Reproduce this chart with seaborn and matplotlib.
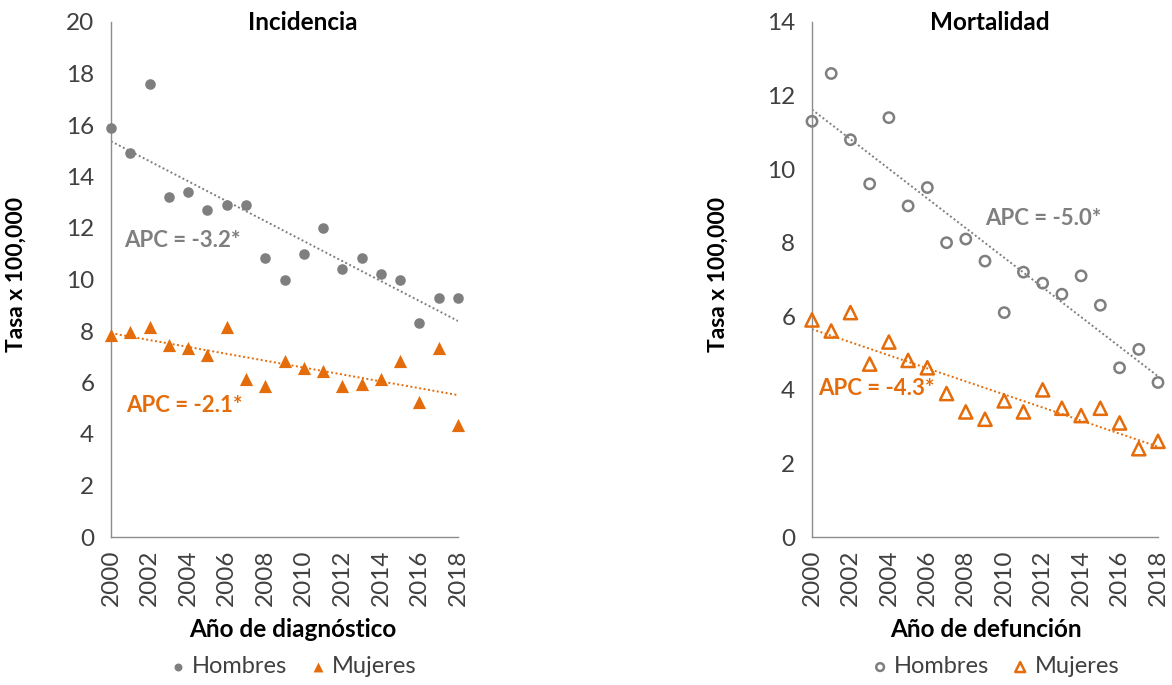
import matplotlib
matplotlib.use('Agg')
import matplotlib.pyplot as plt
import seaborn as sns
import pandas as pd

years = list(range(2000, 2019))
inc_hombres = [15.9, 14.9, 17.6, 13.2, 13.4, 12.7, 12.9, 12.9, 10.85, 10.0, 11.0, 12.0,
               10.4, 10.85, 10.2, 10.0, 8.3, 9.3, 9.3]
inc_mujeres = [7.85, 7.95, 8.15, 7.45, 7.35, 7.05, 8.15, 6.15, 5.85, 6.85, 6.55, 6.45,
               5.85, 5.95, 6.15, 6.85, 5.25, 7.35, 4.35]
mort_hombres = [11.3, 12.6, 10.8, 9.6, 11.4, 9.0, 9.5, 8.0, 8.1, 7.5, 6.1, 7.2,
                6.9, 6.6, 7.1, 6.3, 4.6, 5.1, 4.2]
mort_mujeres = [5.9, 5.6, 6.1, 4.7, 5.3, 4.8, 4.6, 3.9, 3.4, 3.2, 3.7, 3.4,
                4.0, 3.5, 3.3, 3.5, 3.1, 2.4, 2.6]

titles = ["Incidencia", "Mortalidad"]
xlabels = ["Año de diagnóstico", "Año de defunción"]
ylabel = "Tasa x 100,000"
series_names = ["Hombres", "Mujeres"]
apc_labels = [["APC = -3.2*", "APC = -2.1*"], ["APC = -5.0*", "APC = -4.3*"]]
ylims = [20, 14]

GREY = "#7f7f7f"
ORANGE = "#E46C0A"
TXT = "#404040"

sns.set_style("white")
plt.rcParams['font.family'] = ['Lato', 'DejaVu Sans']

fig = plt.figure(figsize=(11.72, 6.85), dpi=100)
ax1 = fig.add_axes([111/1172, 148/685, 347/1172, 515/685])
ax2 = fig.add_axes([812/1172, 148/685, 346/1172, 515/685])

df_inc = pd.DataFrame({"year": years, "Hombres": inc_hombres, "Mujeres": inc_mujeres})
df_mort = pd.DataFrame({"year": years, "Hombres": mort_hombres, "Mujeres": mort_mujeres})

# Incidence: filled markers
sns.scatterplot(data=df_inc, x="year", y="Hombres", ax=ax1, color=GREY, marker="o",
                s=58, edgecolor=GREY, linewidth=0, clip_on=False, zorder=3, label="Hombres")
sns.scatterplot(data=df_inc, x="year", y="Mujeres", ax=ax1, color=ORANGE, marker="^",
                s=90, edgecolor=ORANGE, linewidth=0, clip_on=False, zorder=3, label="Mujeres")
# Mortality: open markers
sns.scatterplot(data=df_mort, x="year", y="Hombres", ax=ax2, marker="o", s=55,
                facecolor="none", edgecolor=GREY, linewidth=1.8, clip_on=False, zorder=3,
                label="Hombres")
sns.scatterplot(data=df_mort, x="year", y="Mujeres", ax=ax2, marker="^", s=90,
                facecolor="none", edgecolor=ORANGE, linewidth=1.8, clip_on=False, zorder=3,
                label="Mujeres")

for ax, df in ((ax1, df_inc), (ax2, df_mort)):
    for col, c in (("Hombres", GREY), ("Mujeres", ORANGE)):
        sns.regplot(data=df, x="year", y=col, ax=ax, scatter=False, ci=None, truncate=True,
                    color=c, line_kws=dict(linestyle=(0, (1, 1.3)), linewidth=1.4, zorder=2))

xlabel_x = [0.525, 0.503]
title_x = [0.553, 0.514]
legend_x = [0.52, 0.525]
for i, ax in enumerate((ax1, ax2)):
    ax.set_xlim(2000, 2018)
    ax.set_ylim(0, ylims[i])
    ax.set_yticks(range(0, ylims[i] + 1, 2))
    ax.set_xticks(years)
    ax.set_xticklabels([str(y) if y % 2 == 0 else "" for y in years], rotation=90)
    for s in ("top", "right"):
        ax.spines[s].set_visible(False)
    for s in ("left", "bottom"):
        ax.spines[s].set_color("#8c8c8c")
        ax.spines[s].set_linewidth(1.0)
    ax.tick_params(axis="both", direction="out", length=6, width=1.0, color="#8c8c8c",
                   labelsize=17.5, labelcolor=TXT, pad=3)
    ax.tick_params(axis="y", pad=6)
    ax.set_ylabel(ylabel, fontsize=16.5, fontweight="bold", color="black")
    ax.yaxis.set_label_coords(-0.242, 0.51)
    ax.set_xlabel(xlabels[i], fontsize=17.5, fontweight="bold", color="black")
    ax.xaxis.set_label_coords(xlabel_x[i], -0.158)
    ax.text(title_x[i], 1.0, titles[i], transform=ax.transAxes, ha="center", va="center",
            fontsize=17.5, fontweight="bold", color="black")
    leg = ax.legend(loc="center", bbox_to_anchor=(legend_x[i], -0.252), ncol=2,
                    frameon=False, fontsize=17, handletextpad=0.1, columnspacing=0.8,
                    markerscale=0.75, handlelength=1.0)
    for t in leg.get_texts():
        t.set_color(TXT)

# APC annotations
ax1.text(2000.7, 11.5, apc_labels[0][0], color=GREY, fontsize=16, fontweight="bold",
         va="center", ha="left")
ax1.text(2000.8, 5.1, apc_labels[0][1], color=ORANGE, fontsize=16, fontweight="bold",
         va="center", ha="left")
ax2.text(2009.0, 8.65, apc_labels[1][0], color=GREY, fontsize=16, fontweight="bold",
         va="center", ha="left")
ax2.text(2000.3, 4.05, apc_labels[1][1], color=ORANGE, fontsize=16, fontweight="bold",
         va="center", ha="left")

fig.savefig("out.png", dpi=100, facecolor="white")
